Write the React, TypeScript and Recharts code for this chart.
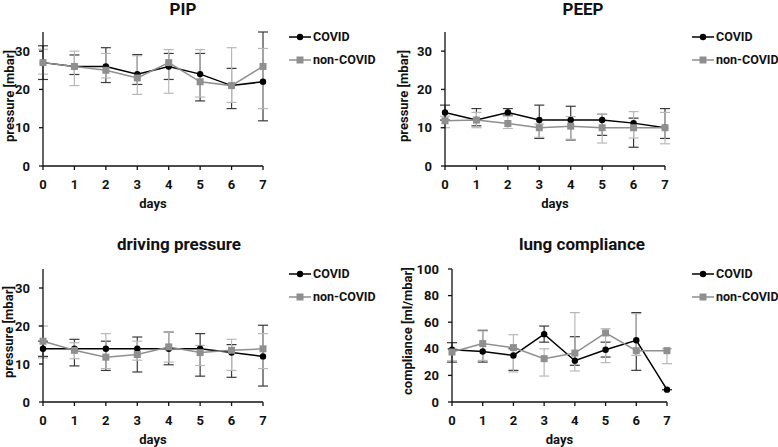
import React from 'react';
import { LineChart, Line, XAxis, YAxis, ErrorBar, Legend, Label } from 'recharts';

// ---------- data ----------
const days = [0, 1, 2, 3, 4, 5, 6, 7];

const pipCovid = [27, 26, 26, 24, 26, 24, 21, 22];
const pipCovidLow = [22.6, 23.9, 21.8, 21.3, 22.6, 17, 15, 11.8];
const pipCovidHigh = [31.4, 29, 30.9, 29.1, 29.4, 29.4, 25.5, 35];
const pipNon = [27, 26, 25, 23, 27, 22, 21, 26];
const pipNonLow = [24, 21, 23, 18.7, 19, 18, 16.6, 15];
const pipNonHigh = [30.5, 30, 29.4, 28.8, 30.4, 30.4, 30.9, 30.7];

const peepCovid = [14, 12, 14, 12, 12, 12, 11.2, 10];
const peepCovidLow = [12, 10.5, 13.3, 7.2, 6.8, 8, 4.9, 7.2];
const peepCovidHigh = [15.9, 15, 15, 15.9, 15.6, 13.5, 12.5, 15];
const peepNon = [11.8, 12, 11.1, 10, 10.4, 10, 10, 10];
const peepNonLow = [10, 10, 9.8, 7.5, 7, 6, 7.3, 5.8];
const peepNonHigh = [13, 14, 13, 11, 12.9, 13.5, 14.2, 14];

const drvCovid = [14, 14, 14, 14, 14, 14, 13, 12];
const drvCovidLow = [12, 9.5, 8.3, 7.9, 9.8, 6.8, 6.5, 4.2];
const drvCovidHigh = [16, 16.5, 16, 17.1, 18.4, 18, 15.1, 20.2];
const drvNon = [16, 13.6, 11.8, 12.5, 14.5, 13, 13.6, 14];
const drvNonLow = [11.6, 11.4, 8.8, 11, 10.5, 9.6, 8.3, 8.8];
const drvNonHigh = [20, 15.6, 18, 16, 18.4, 14.9, 16.5, 18];

const lcCovid = [39.3, 38, 35, 51, 31, 39.3, 46.4, 9.3];
const lcCovidLow = [30, 30, 23.8, 45, 27.6, 33.8, 23.8, 9.3];
const lcCovidHigh = [44.6, 53.9, 40, 57.1, 49.1, 45, 67.2, 9.3];
const lcNon = [37.6, 43.9, 40.9, 32.6, 36.8, 51.9, 38.6, 38.6];
const lcNonLow = [31, 31.3, 22.6, 19.5, 23.3, 29.6, 35, 28.8];
const lcNonHigh = [40, 53.4, 50.6, 40, 67.2, 55.1, 66.4, 40];

const pressureTicks = [0, 10, 20, 30];
const complianceTicks = [0, 20, 40, 60, 80, 100];
const seriesNames = ['COVID', 'non-COVID'];

// ---------- helpers ----------
function buildTable(c: number[], cl: number[], ch: number[], n: number[], nl: number[], nh: number[]) {
  return days.map((d, i) => ({
    day: d,
    covid: c[i],
    covidErr: [c[i] - cl[i], ch[i] - c[i]],
    non: n[i],
    nonErr: [n[i] - nl[i], nh[i] - n[i]],
  }));
}

const FONT = 'Roboto, "Noto Sans", sans-serif';
const COVID_COLOR = '#000000';
const NON_COLOR = '#8f8f8f';
const COVID_ERR = '#3a3a3a';
const NON_ERR = '#b8b8b8';

const SquareDot = (props: any) => {
  const { cx, cy } = props;
  if (cx == null || cy == null) return null;
  return <rect x={cx - 3.5} y={cy - 3.5} width={7} height={7} fill={NON_COLOR} />;
};

const CircleDot = (props: any) => {
  const { cx, cy } = props;
  if (cx == null || cy == null) return null;
  return <circle cx={cx} cy={cy} r={3.2} fill={COVID_COLOR} />;
};

const LegendContent = () => (
  <div style={{ fontFamily: FONT, fontWeight: 700, fontSize: 12.5, color: '#111', whiteSpace: 'nowrap' }}>
    {seriesNames.map((name, i) => (
      <div key={name} style={{ display: 'flex', alignItems: 'center', height: 23 }}>
        <svg width={24} height={10} style={{ display: 'block', flex: 'none' }}>
          <line x1={0} y1={5} x2={22} y2={5} stroke={i === 0 ? COVID_COLOR : NON_COLOR} strokeWidth={1.5} />
          {i === 0 ? (
            <circle cx={11} cy={5} r={3.2} fill={COVID_COLOR} />
          ) : (
            <rect x={7.5} y={1.5} width={7} height={7} fill={NON_COLOR} />
          )}
        </svg>
        <span>{name}</span>
      </div>
    ))}
  </div>
);

type PanelProps = {
  left: number;
  top: number;
  width: number;
  height: number;
  title: string;
  titleX: number;
  titleY: number;
  data: any[];
  yDomain: [number, number];
  yTicks: number[];
  yLabel: string;
  yLabelX: number;
  yLabelY: number;
  plotLeft: number;
  plotRight: number;
  plotTop: number;
  plotBottom: number;
  legendLeft: number;
  legendTop: number;
};

function Panel(p: PanelProps) {
  const legendW = 100;
  const marginRight = p.width - p.plotRight - legendW;
  const xAxisH = p.height - p.plotBottom;
  const tickStyle = { fontFamily: FONT, fontWeight: 700, fontSize: 13, fill: '#111' };
  return (
    <div style={{ position: 'absolute', left: p.left, top: p.top, width: p.width, height: p.height }}>
      <div
        style={{
          position: 'absolute',
          left: p.titleX - 100,
          width: 200,
          top: p.titleY - 11,
          height: 22,
          lineHeight: '22px',
          textAlign: 'center',
          fontFamily: FONT,
          fontWeight: 700,
          fontSize: 17,
          color: '#111',
        }}
      >
        {p.title}
      </div>
      <LineChart
        width={p.width}
        height={p.height}
        data={p.data}
        margin={{ top: p.plotTop, right: marginRight, bottom: 0, left: 0 }}
        style={{ position: 'absolute', left: 0, top: 0 }}
      >
        <XAxis
          dataKey="day"
          type="number"
          domain={[0, 7]}
          ticks={days}
          interval={0}
          height={xAxisH}
          stroke="#111"
          strokeWidth={1.3}
          tickSize={4}
          tickMargin={10}
          tick={tickStyle}
        >
          <Label
            content={(lp: any) => {
              const vb = lp.viewBox || {};
              const cx = vb.x + vb.width / 2;
              return (
                <text x={cx} y={p.plotBottom + 37} textAnchor="middle" dominantBaseline="central" style={tickStyle}>
                  days
                </text>
              );
            }}
          />
        </XAxis>
        <YAxis
          type="number"
          domain={p.yDomain}
          ticks={p.yTicks}
          interval={0}
          width={p.plotLeft}
          stroke="#111"
          strokeWidth={1.3}
          tickSize={4}
          tickMargin={9}
          tick={tickStyle}
          allowDataOverflow
        >
          <Label
            content={() => (
              <text
                x={p.yLabelX}
                y={p.yLabelY}
                transform={`rotate(-90 ${p.yLabelX} ${p.yLabelY})`}
                textAnchor="middle"
                dominantBaseline="central"
                style={tickStyle}
              >
                {p.yLabel}
              </text>
            )}
          />
        </YAxis>
        <Legend
          layout="vertical"
          align="right"
          verticalAlign="top"
          content={LegendContent}
          wrapperStyle={{ left: p.legendLeft, top: p.legendTop, width: legendW, right: 'auto' }}
        />
        <Line
          dataKey="covid"
          name="COVID"
          stroke={COVID_COLOR}
          strokeWidth={1.5}
          dot={CircleDot}
          activeDot={false}
          isAnimationActive={false}
        >
          <ErrorBar dataKey="covidErr" width={5} stroke={COVID_ERR} strokeWidth={1.2} isAnimationActive={false} />
        </Line>
        <Line
          dataKey="non"
          name="non-COVID"
          stroke={NON_COLOR}
          strokeWidth={1.5}
          dot={SquareDot}
          activeDot={false}
          isAnimationActive={false}
        >
          <ErrorBar dataKey="nonErr" width={5} stroke={NON_ERR} strokeWidth={1.2} isAnimationActive={false} />
        </Line>
      </LineChart>
    </div>
  );
}

export default function App() {
  const pip = buildTable(pipCovid, pipCovidLow, pipCovidHigh, pipNon, pipNonLow, pipNonHigh);
  const peep = buildTable(peepCovid, peepCovidLow, peepCovidHigh, peepNon, peepNonLow, peepNonHigh);
  const drv = buildTable(drvCovid, drvCovidLow, drvCovidHigh, drvNon, drvNonLow, drvNonHigh);
  const lc = buildTable(lcCovid, lcCovidLow, lcCovidHigh, lcNon, lcNonLow, lcNonHigh);
  return (
    <div style={{ position: 'absolute', left: 0, top: 0, width: 778, height: 447, background: '#fff', overflow: 'hidden' }}>
      <Panel
        left={0} top={0} width={390} height={220}
        title="PIP" titleX={183} titleY={9}
        data={pip} yDomain={[0, 35]} yTicks={pressureTicks}
        yLabel="pressure [mbar]" yLabelX={9} yLabelY={96}
        plotLeft={43} plotRight={263} plotTop={32} plotBottom={166}
        legendLeft={289} legendTop={25}
      />
      <Panel
        left={390} top={0} width={388} height={220}
        title="PEEP" titleX={193} titleY={9}
        data={peep} yDomain={[0, 35]} yTicks={pressureTicks}
        yLabel="pressure [mbar]" yLabelX={13} yLabelY={96}
        plotLeft={55} plotRight={275} plotTop={32} plotBottom={166}
        legendLeft={302} legendTop={25}
      />
      <Panel
        left={0} top={220} width={390} height={227}
        title="driving pressure" titleX={179} titleY={24}
        data={drv} yDomain={[0, 35]} yTicks={pressureTicks}
        yLabel="pressure [mbar]" yLabelX={8} yLabelY={112}
        plotLeft={43} plotRight={263} plotTop={49} plotBottom={182}
        legendLeft={289} legendTop={42}
      />
      <Panel
        left={390} top={220} width={388} height={227}
        title="lung compliance" titleX={192} titleY={24}
        data={lc} yDomain={[0, 100]} yTicks={complianceTicks}
        yLabel="compliance [ml/mbar]" yLabelX={17} yLabelY={111}
        plotLeft={62} plotRight={277} plotTop={49} plotBottom={182}
        legendLeft={302} legendTop={42}
      />
    </div>
  );
}
